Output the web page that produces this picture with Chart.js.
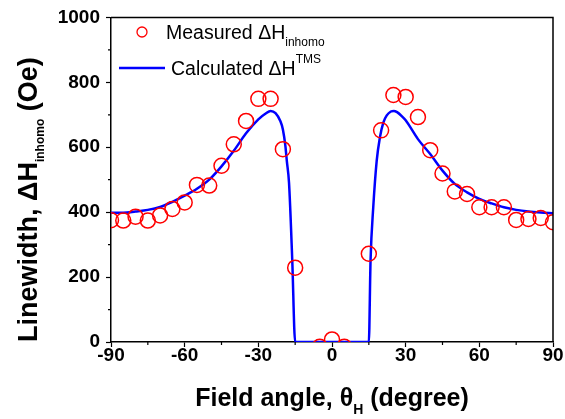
<!DOCTYPE html>
<html>
<head>
<meta charset="utf-8">
<script src="https://cdn.jsdelivr.net/npm/chart.js@4"></script>
<style>
  body { margin: 0; background: #fff; }
  #wrap { width: 565px; height: 419px; position: relative; }
</style>
</head>
<body>
<div id="wrap"><canvas id="fmrChart"></canvas></div>
<script>
// measured inhomogeneous linewidth (Oe) vs field angle (deg)
var measAngles = [-90, -85, -80, -75, -70, -65, -60, -55, -50, -45, -40, -35, -30, -25, -20, -15,
    -5, 0, 5, 15, 20, 25, 30, 35, 40, 45, 50, 55, 60, 65, 70, 75, 80, 85, 90];
var measValues = [375, 374, 386, 374, 390, 410, 430, 484, 482, 543, 609, 681, 749, 749, 594, 229,
    -15, 8, -15, 272, 652, 761, 755, 693, 591, 519, 464, 456, 415, 415, 415, 376, 379, 382, 369];

// calculated TMS linewidth
var calcAngles = [-90, -85, -80, -75, -70, -65, -60, -55, -50, -45, -40, -35, -30, -27, -25, -23, -21,
    -20, -19, -18.4, -17.5, -16.2, -15, 15, 15.7, 16.8, 18.2, 19.5, 20.9, 22.3, 24, 25.2, 26.5, 28.4,
    30, 35, 40, 45, 50, 55, 60, 65, 70, 75, 80, 85, 90];
var calcValues = [398, 398, 402, 407, 416, 432, 451, 472, 500, 541, 589, 643, 686, 704, 712, 705, 680,
    655, 605, 558, 490, 255, 0, 0, 252, 415, 558, 630, 676, 698, 710, 712, 708, 696,
    683, 625, 579, 528, 487, 461, 441, 427, 415, 407, 402, 399, 397];

var xTicks = [-90, -60, -30, 0, 30, 60, 90];
var yTicks = [0, 200, 400, 600, 800, 1000];

const FONT = '"Liberation Sans", Arial, sans-serif';

const toXY = (xs, ys) => xs.map((x, i) => ({x: x, y: ys[i]}));

// draw a run of text pieces (normal / sub / sup) one after another
const drawRun = (ctx, x, y, parts) => {
    parts.forEach(p => {
        ctx.font = p.font;
        ctx.fillText(p.text, x, y + (p.dy || 0));
        x += ctx.measureText(p.text).width;
    });
};
const runWidth = (ctx, parts) => {
    let w = 0;
    parts.forEach(p => { ctx.font = p.font; w += ctx.measureText(p.text).width; });
    return w;
};

// box, minor ticks, axis titles and legend
const decor = {
    id: 'decor',
    afterDraw(chart) {
        const ctx = chart.ctx;
        const a = chart.chartArea;
        const xs = chart.scales.x, ys = chart.scales.y;
        ctx.save();
        ctx.strokeStyle = '#000';
        ctx.lineWidth = 1.5;
        ctx.beginPath();
        ctx.moveTo(a.left, a.top); ctx.lineTo(a.right, a.top); ctx.lineTo(a.right, a.bottom);
        ctx.stroke();

        // minor ticks
        ctx.lineWidth = 1.2;
        ctx.beginPath();
        for (let v = -75; v < 90; v += 30) {
            let px = xs.getPixelForValue(v);
            ctx.moveTo(px, a.bottom); ctx.lineTo(px, a.bottom + 3);
        }
        for (let v = 100; v < 1000; v += 200) {
            let py = ys.getPixelForValue(v);
            ctx.moveTo(a.left, py); ctx.lineTo(a.left - 3, py);
        }
        ctx.stroke();

        ctx.fillStyle = '#000';
        ctx.textBaseline = 'alphabetic';
        ctx.textAlign = 'left';

        // x title
        const xParts = [
            {text: 'Field angle, θ', font: 'bold 25px ' + FONT},
            {text: 'H', font: 'bold 14px ' + FONT, dy: 8},
            {text: ' (degree)', font: 'bold 25px ' + FONT}
        ];
        let xw = runWidth(ctx, xParts);
        drawRun(ctx, (a.left + a.right) / 2 - xw / 2, 406, xParts);

        // y title, rotated
        const yParts = [
            {text: 'Linewidth, ΔH', font: 'bold 27px ' + FONT},
            {text: 'inhomo', font: 'bold 12px ' + FONT, dy: 7},
            {text: ' (Oe)', font: 'bold 27px ' + FONT}
        ];
        ctx.save();
        ctx.translate(37, a.bottom);
        ctx.rotate(-Math.PI / 2);
        drawRun(ctx, 0, 0, yParts);
        ctx.restore();

        // legend
        ctx.strokeStyle = '#ff0000';
        ctx.lineWidth = 1.3;
        ctx.beginPath();
        ctx.arc(142, 32, 5, 0, Math.PI * 2);
        ctx.stroke();
        drawRun(ctx, 166, 39, [
            {text: 'Measured ΔH', font: '19.5px ' + FONT},
            {text: 'inhomo', font: '12px ' + FONT, dy: 7}
        ]);
        ctx.strokeStyle = '#0000ff';
        ctx.lineWidth = 2.5;
        ctx.beginPath();
        ctx.moveTo(119, 68); ctx.lineTo(165, 68);
        ctx.stroke();
        drawRun(ctx, 171, 75, [
            {text: 'Calculated ΔH', font: '19.5px ' + FONT},
            {text: 'TMS', font: '12px ' + FONT, dy: -12}
        ]);
        ctx.restore();
    }
};

new Chart(document.getElementById('fmrChart'), {
    type: 'scatter',
    data: {
        datasets: [
            {
                label: 'Calculated',
                data: toXY(calcAngles, calcValues),
                showLine: true,
                borderColor: '#0000ff',
                borderWidth: 2.5,
                pointRadius: 0,
                cubicInterpolationMode: 'monotone',
                order: 2
            },
            {
                label: 'Measured',
                data: toXY(measAngles, measValues),
                showLine: false,
                borderColor: '#ff0000',
                backgroundColor: 'rgba(0,0,0,0)',
                borderWidth: 1.5,
                pointRadius: 7.5,
                pointHoverRadius: 7.5,
                clip: 0,
                order: 1
            }
        ]
    },
    options: {
        responsive: true,
        maintainAspectRatio: false,
        animation: false,
        events: [],
        layout: {padding: {top: 16, right: 12, left: 0, bottom: 0}},
        plugins: {legend: {display: false}, tooltip: {enabled: false}},
        scales: {
            x: {
                type: 'linear',
                min: -90, max: 90,
                afterBuildTicks: s => { s.ticks = xTicks.map(v => ({value: v})); },
                afterFit: s => { s.height = 77; },
                ticks: {
                    autoSkip: false, maxRotation: 0, padding: -3, color: '#000',
                    callback: v => String(v),
                    font: {family: FONT, size: 19, weight: 'bold'}
                },
                grid: {drawOnChartArea: false, tickLength: 5, tickWidth: 1.2, tickColor: '#000'},
                border: {color: '#000', width: 1.5}
            },
            y: {
                type: 'linear',
                min: 0, max: 1000,
                afterBuildTicks: s => { s.ticks = yTicks.map(v => ({value: v})); },
                afterFit: s => { s.width = 111; },
                ticks: {
                    padding: 6, color: '#000',
                    callback: v => String(v),
                    font: {family: FONT, size: 19, weight: 'bold'}
                },
                grid: {drawOnChartArea: false, tickLength: 5, tickWidth: 1.2, tickColor: '#000'},
                border: {color: '#000', width: 1.5}
            }
        }
    },
    plugins: [decor]
});
</script>
</body>
</html>
